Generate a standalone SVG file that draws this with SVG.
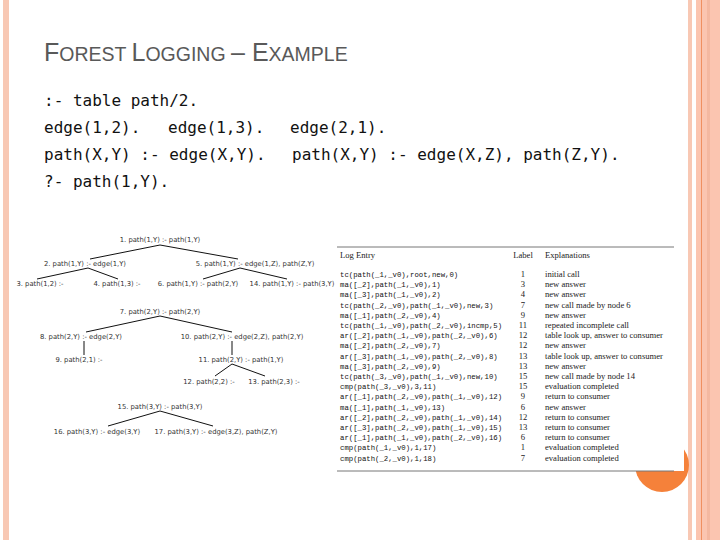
<svg xmlns="http://www.w3.org/2000/svg" width="720" height="540" viewBox="0 0 720 540">
<style>
.t{font-family:"DejaVu Sans","Liberation Sans",sans-serif;font-size:6.8px;fill:#333;text-anchor:middle}
.c{font-family:"DejaVu Sans Mono","Liberation Mono",monospace;font-size:16px;fill:#111}
.m{font-family:"Liberation Mono",monospace;font-size:7.3px;fill:#111}
.s{font-family:"Liberation Serif",serif;font-size:8.6px;fill:#222}
.l{font-family:"Liberation Serif",serif;font-size:8.6px;fill:#222;text-anchor:middle}
.e{stroke:#111;stroke-width:1;fill:none}
</style>
<rect width="720" height="540" fill="#fff"/>
<rect x="3" y="0" width="6" height="540" fill="#f8c8b4"/>
<rect x="688" y="0" width="4" height="540" fill="#f8c8b4"/>
<rect x="696" y="0" width="24" height="540" fill="#fbc5b0"/>
<rect x="701" y="0" width="1" height="540" fill="#f09060"/>
<rect x="707" y="0" width="3" height="540" fill="#f4b8a0"/>
<circle cx="662" cy="465" r="27" fill="#f5813a"/>
<rect x="337" y="240" width="347" height="231" fill="#fff"/>
<text x="44" y="61" font-family="Liberation Sans,sans-serif" fill="#595959" font-size="25"><tspan>F</tspan><tspan font-size="19.5">OREST </tspan><tspan>L</tspan><tspan font-size="19.5">OGGING </tspan><tspan>– E</tspan><tspan font-size="19.5">XAMPLE</tspan></text>
<text class="c" x="44" y="106">:- table path/2.</text>
<text class="c" x="44" y="133">edge(1,2).</text>
<text class="c" x="168" y="133">edge(1,3).</text>
<text class="c" x="290" y="133">edge(2,1).</text>
<text class="c" x="44" y="160">path(X,Y) :- edge(X,Y).</text>
<text class="c" x="292" y="160">path(X,Y) :- edge(X,Z), path(Z,Y).</text>
<text class="c" x="44" y="187">?- path(1,Y).</text>
<g id="connectors">
<path class="e" d="M160 245L90 259M160 245L238 259M88 268L37 279M88 268L118 279M240 268L203 279M240 268L287 279M160 316L86 332M160 316L232 332M84 341V355M232 341V355M232 364L215 376M232 364L265 376M160 411L108 426M160 411L213 426"/>
</g>
<g id="n1"><text class="t" x="160" y="242">1. path(1,Y) :- path(1,Y)</text></g>
<g id="n2"><text class="t" x="85" y="266">2. path(1,Y) :- edge(1,Y)</text></g>
<g id="n5"><text class="t" x="255" y="266">5. path(1,Y) :- edge(1,Z), path(Z,Y)</text></g>
<g id="n3"><text class="t" x="40" y="286">3. path(1,2) :-</text></g>
<g id="n4"><text class="t" x="117" y="286">4. path(1,3) :-</text></g>
<g id="n6"><text class="t" x="198" y="286">6. path(1,Y) :- path(2,Y)</text></g>
<g id="n14"><text class="t" x="292" y="286">14. path(1,Y) :- path(3,Y)</text></g>
<g id="n7"><text class="t" x="160" y="314">7. path(2,Y) :- path(2,Y)</text></g>
<g id="n8"><text class="t" x="81" y="339">8. path(2,Y) :- edge(2,Y)</text></g>
<g id="n10"><text class="t" x="242" y="339">10. path(2,Y) :- edge(2,Z), path(2,Y)</text></g>
<g id="n9"><text class="t" x="79" y="362">9. path(2,1) :-</text></g>
<g id="n11"><text class="t" x="241" y="362">11. path(2,Y) :- path(1,Y)</text></g>
<g id="n12"><text class="t" x="209" y="384">12. path(2,2) :-</text></g>
<g id="n13"><text class="t" x="274" y="384">13. path(2,3) :-</text></g>
<g id="n15"><text class="t" x="160" y="409">15. path(3,Y) :- path(3,Y)</text></g>
<g id="n16"><text class="t" x="97" y="434">16. path(3,Y) :- edge(3,Y)</text></g>
<g id="n17"><text class="t" x="216" y="434">17. path(3,Y) :- edge(3,Z), path(Z,Y)</text></g>
<g id="table">
<line x1="337" y1="247" x2="674" y2="247" stroke="#777" stroke-width="1"/>
<line x1="337" y1="471" x2="674" y2="471" stroke="#777" stroke-width="1"/>
<text class="s" x="340" y="258">Log Entry</text><text class="l" x="523" y="258">Label</text><text class="s" x="545" y="258">Explanations</text>
<text class="m" x="340" y="277">tc(path(_1,_v0),root,new,0)</text><text class="l" x="523" y="277">1</text><text class="s" x="545" y="277">initial call</text>
<text class="m" x="340" y="287.2">ma([_2],path(_1,_v0),1)</text><text class="l" x="523" y="287.2">3</text><text class="s" x="545" y="287.2">new answer</text>
<text class="m" x="340" y="297.4">ma([_3],path(_1,_v0),2)</text><text class="l" x="523" y="297.4">4</text><text class="s" x="545" y="297.4">new answer</text>
<text class="m" x="340" y="307.6">tc(path(_2,_v0),path(_1,_v0),new,3)</text><text class="l" x="523" y="307.6">7</text><text class="s" x="545" y="307.6">new call made by node 6</text>
<text class="m" x="340" y="317.8">ma([_1],path(_2,_v0),4)</text><text class="l" x="523" y="317.8">9</text><text class="s" x="545" y="317.8">new answer</text>
<text class="m" x="340" y="328">tc(path(_1,_v0),path(_2,_v0),incmp,5)</text><text class="l" x="523" y="328">11</text><text class="s" x="545" y="328">repeated incomplete call</text>
<text class="m" x="340" y="338.2">ar([_2],path(_1,_v0),path(_2,_v0),6)</text><text class="l" x="523" y="338.2">12</text><text class="s" x="545" y="338.2">table look up, answer to consumer</text>
<text class="m" x="340" y="348.4">ma([_2],path(_2,_v0),7)</text><text class="l" x="523" y="348.4">12</text><text class="s" x="545" y="348.4">new answer</text>
<text class="m" x="340" y="358.6">ar([_3],path(_1,_v0),path(_2,_v0),8)</text><text class="l" x="523" y="358.6">13</text><text class="s" x="545" y="358.6">table look up, answer to consumer</text>
<text class="m" x="340" y="368.8">ma([_3],path(_2,_v0),9)</text><text class="l" x="523" y="368.8">13</text><text class="s" x="545" y="368.8">new answer</text>
<text class="m" x="340" y="379">tc(path(_3,_v0),path(_1,_v0),new,10)</text><text class="l" x="523" y="379">15</text><text class="s" x="545" y="379">new call made by node 14</text>
<text class="m" x="340" y="389.2">cmp(path(_3,_v0),3,11)</text><text class="l" x="523" y="389.2">15</text><text class="s" x="545" y="389.2">evaluation completed</text>
<text class="m" x="340" y="399.4">ar([_1],path(_2,_v0),path(_1,_v0),12)</text><text class="l" x="523" y="399.4">9</text><text class="s" x="545" y="399.4">return to consumer</text>
<text class="m" x="340" y="409.6">ma([_1],path(_1,_v0),13)</text><text class="l" x="523" y="409.6">6</text><text class="s" x="545" y="409.6">new answer</text>
<text class="m" x="340" y="419.8">ar([_2],path(_2,_v0),path(_1,_v0),14)</text><text class="l" x="523" y="419.8">12</text><text class="s" x="545" y="419.8">return to consumer</text>
<text class="m" x="340" y="430">ar([_3],path(_2,_v0),path(_1,_v0),15)</text><text class="l" x="523" y="430">13</text><text class="s" x="545" y="430">return to consumer</text>
<text class="m" x="340" y="440.2">ar([_1],path(_1,_v0),path(_2,_v0),16)</text><text class="l" x="523" y="440.2">6</text><text class="s" x="545" y="440.2">return to consumer</text>
<text class="m" x="340" y="450.4">cmp(path(_1,_v0),1,17)</text><text class="l" x="523" y="450.4">1</text><text class="s" x="545" y="450.4">evaluation completed</text>
<text class="m" x="340" y="460.6">cmp(path(_2,_v0),1,18)</text><text class="l" x="523" y="460.6">7</text><text class="s" x="545" y="460.6">evaluation completed</text>
</g>
</svg>
